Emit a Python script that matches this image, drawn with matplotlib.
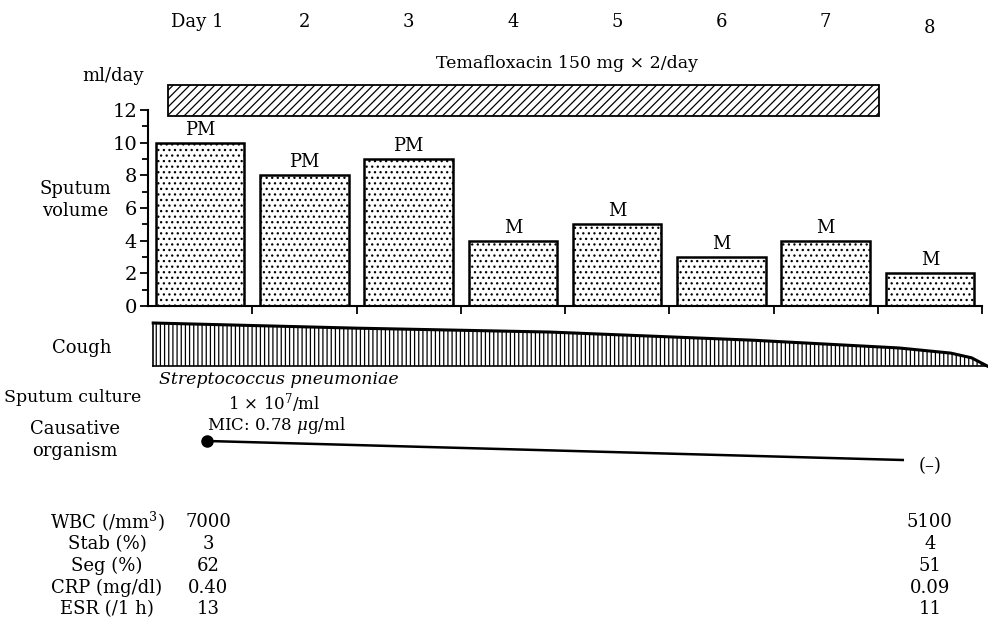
import numpy as np
import matplotlib
matplotlib.use("Agg")
import matplotlib.pyplot as plt
from matplotlib.patches import Rectangle

plt.rcParams['font.family'] = ['DejaVu Serif']
plt.rcParams['mathtext.fontset'] = 'dejavuserif'
plt.rcParams['hatch.linewidth'] = 0.9

# ---- data ----
days = [1, 2, 3, 4, 5, 6, 7, 8]
day_labels = ['Day 1', '2', '3', '4', '5', '6', '7', '8']
sputum_ml = [10, 8, 9, 4, 5, 3, 4, 2]
sputum_kind = ['PM', 'PM', 'PM', 'M', 'M', 'M', 'M', 'M']

drug_start, drug_end = 0.69, 7.51
drug_label = 'Temafloxacin 150 mg \u00d7 2/day'

# cough intensity (relative)
cough_day = [0.55, 2.5, 4.35, 6.3, 7.7, 8.2, 8.4, 8.55]
cough_level = [1.0, 0.88, 0.79, 0.60, 0.42, 0.30, 0.19, 0.0]

organism_days = [1.07, 7.74]
organism_level = [0.0, 1.0]

lab_names = ['WBC (/mm$^3$)', 'Stab (%)', 'Seg (%)', 'CRP (mg/dl)', 'ESR (/1 h)']
lab_day1 = ['7000', '3', '62', '0.40', '13']
lab_day8 = ['5100', '4', '51', '0.09', '11']

W, H = 988, 630
fig = plt.figure(figsize=(W / 100, H / 100), dpi=100)

# pixel geometry of the bar panel
x0_px, x1_px = 148, 982
y0_px, y1_px = 306, 110
per_day = (x1_px - x0_px) / 8.0

ax = fig.add_axes([x0_px / W, (H - y0_px) / H, (x1_px - x0_px) / W, (y0_px - y1_px) / H])
ax.bar(days, sputum_ml, width=0.85, color='white', edgecolor='black',
       linewidth=1.8, hatch='...', zorder=2)
for d, v, k in zip(days, sputum_ml, sputum_kind):
    ax.text(d, v + 0.25, k, ha='center', va='bottom', fontsize=13)
ax.set_xlim(0.5, 8.5)
ax.set_ylim(0, 12)
ax.set_yticks(np.arange(0, 13, 2))
ax.set_yticks(np.arange(1, 12, 2), minor=True)
ax.set_xticks(np.arange(1.5, 9, 1))
ax.set_xticklabels([])
ax.tick_params(axis='y', which='major', length=6, width=1.3, labelsize=14, pad=2)
ax.tick_params(axis='y', which='minor', length=4, width=1.3)
ax.tick_params(axis='x', which='major', length=6, width=1.3, direction='out')
for s in ['top', 'right']:
    ax.spines[s].set_visible(False)
ax.spines['left'].set_linewidth(1.5)
ax.spines['bottom'].set_linewidth(1.5)
ax.patch.set_alpha(0)

# overlay axes: x in day units, y in pixel rows
ov = fig.add_axes([0, 0, 1, 1])
ov.set_xlim(0.5 - x0_px / per_day, 0.5 + (W - x0_px) / per_day)
ov.set_ylim(H, 0)
ov.axis('off')
ov.patch.set_alpha(0)


def px(xp):
    return 0.5 + (xp - x0_px) / per_day


# day labels
for d, lab in zip(days, day_labels):
    ov.text(d - (0.03 if d == 1 else 0), 28 if d == 8 else 22, lab,
            ha='center', va='center', fontsize=13)

# drug bar
ov.add_patch(Rectangle((drug_start, 85), drug_end - drug_start, 31,
                       facecolor='white', edgecolor='black', linewidth=1.3, hatch='////'))
ov.text((drug_start + drug_end) / 2 + 0.42, 63, drug_label, ha='center', va='center', fontsize=12.5)

ov.text(px(113), 76, 'ml/day', ha='center', va='center', fontsize=13)
ov.text(px(75), 200, 'Sputum\nvolume', ha='center', va='center', fontsize=13, linespacing=1.3)

# cough wedge
base = 366
cd = np.array(cough_day)
top = base - np.array(cough_level) * 43
ov.fill_between(cd, top, base, facecolor='white', edgecolor='black', hatch='||||', linewidth=0)
ov.plot(cd, top, color='black', linewidth=2.2)
ov.plot([cd[0], cd[-1]], [base, base], color='black', linewidth=1.2)
ov.plot([cd[0], cd[0]], [top[0], base], color='black', linewidth=1.2)

ov.text(px(82), 348, 'Cough', ha='center', va='center', fontsize=13)
ov.text(px(73), 397, 'Sputum culture', ha='center', va='center', fontsize=12.5)
ov.text(px(75), 440, 'Causative\norganism', ha='center', va='center', fontsize=13, linespacing=1.3)

ov.text(px(279), 380, 'Streptococcus pneumoniae', ha='center', va='center', fontsize=12.5, style='italic')
ov.text(px(274), 403, r'1 $\times$ 10$^7$/ml', ha='center', va='center', fontsize=12)
ov.text(px(277), 426, r'MIC: 0.78 $\mu$g/ml', ha='center', va='center', fontsize=12)

# causative organism line
org_y = 441 + np.array(organism_level) * 19
ov.plot(organism_days, org_y, color='black', linewidth=1.8)
ov.plot(organism_days[0], org_y[0], 'o', color='black', markersize=8)
ov.text(8.0, 466, '(\u2013)', ha='center', va='center', fontsize=13)

# lab table
rows_y = [522, 544, 566, 588, 609]
for y, name, a, b in zip(rows_y, lab_names, lab_day1, lab_day8):
    ov.text(px(107), y, name, ha='center', va='center', fontsize=13)
    ov.text(1.08, y, a, ha='center', va='center', fontsize=13)
    ov.text(8.0, y, b, ha='center', va='center', fontsize=13)

fig.savefig('out.png', dpi=100)
